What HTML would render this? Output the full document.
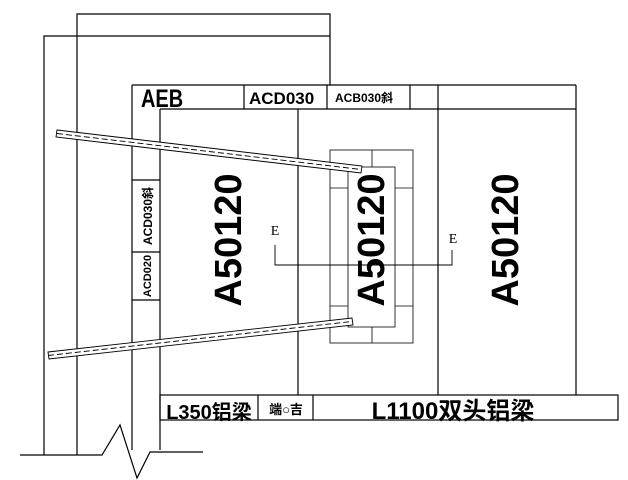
<!DOCTYPE html><html><head><meta charset="utf-8"><style>body{margin:0;background:#fff}svg{display:block}text{font-family:"Liberation Sans","Noto Sans CJK SC",sans-serif;fill:#000}</style></head><body>
<svg width="628" height="480" viewBox="0 0 628 480" stroke="#000" fill="none" stroke-width="1.2">
<polyline points="77,455 77,14 330,14 330,85"/>
<polyline points="44,455 44,36 330,36"/>
<line x1="132" y1="85" x2="576" y2="85"/>
<line x1="132" y1="85" x2="132" y2="450"/>
<line x1="160" y1="109" x2="576" y2="109"/>
<line x1="160" y1="109" x2="160" y2="450"/>
<line x1="244" y1="85" x2="244" y2="109"/><line x1="327" y1="85" x2="327" y2="109"/><line x1="410" y1="85" x2="410" y2="109"/><line x1="438" y1="85" x2="438" y2="395"/>
<line x1="576" y1="85" x2="576" y2="395"/>
<line x1="298" y1="109" x2="298" y2="395"/>
<line x1="132" y1="180" x2="160" y2="180"/><line x1="132" y1="252" x2="160" y2="252"/><line x1="132" y1="300" x2="160" y2="300"/>
<rect x="160" y="395" width="458" height="25"/>
<line x1="258" y1="395" x2="258" y2="420"/><line x1="313" y1="395" x2="313" y2="420"/>
<polyline points="20,455 102,455 120,425 137,478 150,452 203,452"/>
<g stroke-width="0.8"><rect x="330" y="150" width="83" height="193"/><rect x="348" y="167" width="47" height="160"/>
<line x1="372" y1="150" x2="372" y2="167"/><line x1="372" y1="327" x2="372" y2="343"/>
<line x1="330" y1="188" x2="348" y2="188"/><line x1="395" y1="188" x2="413" y2="188"/>
<line x1="330" y1="306" x2="348" y2="306"/><line x1="395" y1="306" x2="413" y2="306"/></g>
<polyline points="275,245 275,265 452,265 452,250" stroke-width="0.9"/>
<g stroke-width="0.9"><polygon points="57,130 362,166 361,173 56,137" fill="#fff"/><line x1="57" y1="133.5" x2="361" y2="169.5" stroke-dasharray="6,3"/>
<polygon points="48,352 352,318 353,325 49,359" fill="#fff"/><line x1="48" y1="355.5" x2="352" y2="321.5" stroke-dasharray="6,3"/></g>
<g stroke="none">
<text transform="translate(141,107) scale(0.8,1)" font-size="25" font-weight="bold">AEB</text>
<text x="249" y="104" font-size="17" font-weight="bold">ACD030</text>
<text x="335" y="102" font-size="12" font-weight="bold">ACB030斜</text>
<text x="209" y="419" font-size="20" font-weight="bold" text-anchor="middle">L350铝梁</text>
<text x="286" y="414" font-size="13" font-weight="bold" text-anchor="middle">端○吉</text>
<text x="453" y="419" font-size="24" font-weight="bold" text-anchor="middle">L1100双头铝梁</text>
<text transform="translate(152,216) rotate(-90)" font-size="12" font-weight="bold" text-anchor="middle">ACD030斜</text>
<text transform="translate(151,276) rotate(-90)" font-size="11" font-weight="bold" text-anchor="middle">ACD020</text>
<text transform="translate(241,240) rotate(-90)" font-size="38" font-weight="bold" text-anchor="middle">A50120</text>
<text transform="translate(384,240) rotate(-90)" font-size="38" font-weight="bold" text-anchor="middle">A50120</text>
<text transform="translate(518,240) rotate(-90)" font-size="38" font-weight="bold" text-anchor="middle">A50120</text>
<text x="275" y="235" font-size="14" text-anchor="middle" style="font-family:'Liberation Serif',serif">E</text>
<text x="453" y="243" font-size="14" text-anchor="middle" style="font-family:'Liberation Serif',serif">E</text>
</g></svg></body></html>
